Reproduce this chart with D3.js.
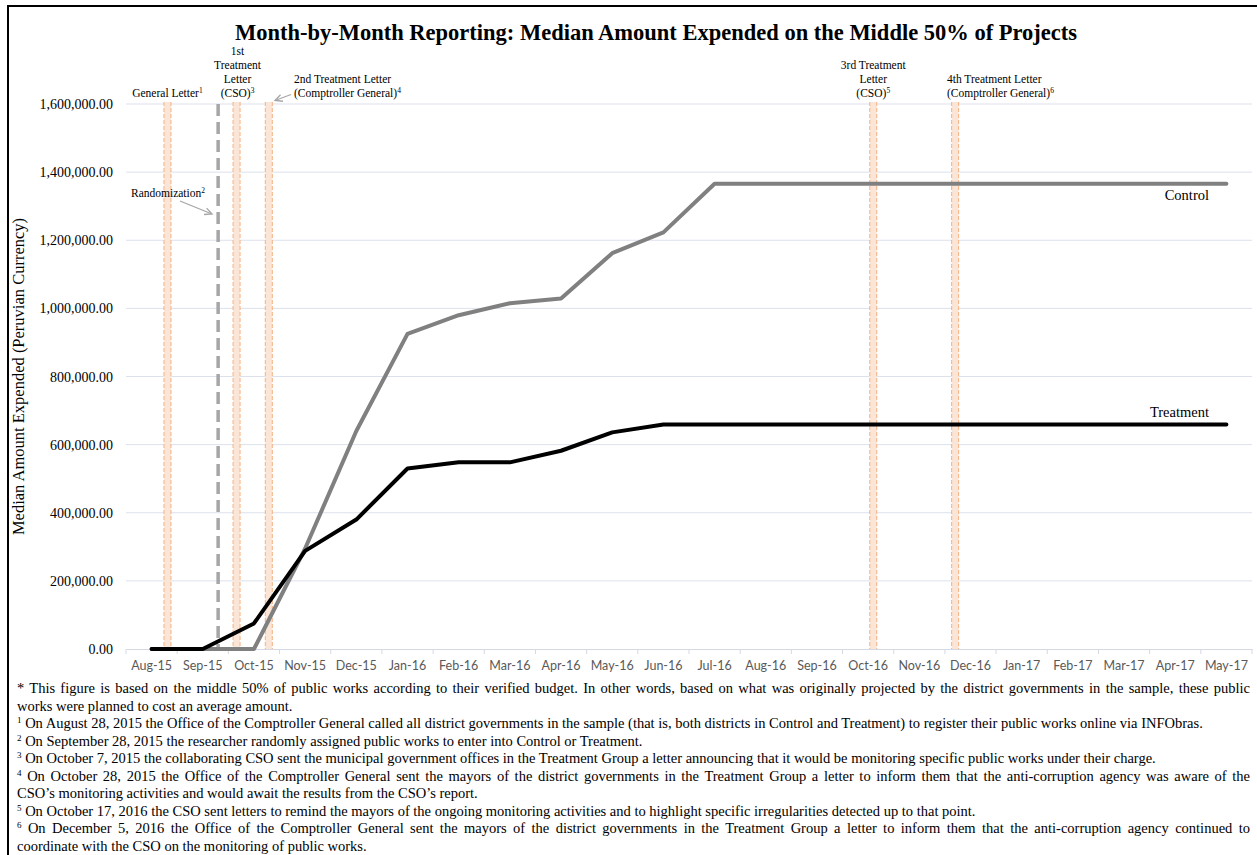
<!DOCTYPE html>
<html>
<head>
<meta charset="utf-8">
<script src="https://cdn.jsdelivr.net/npm/d3@7.9.0/dist/d3.min.js"></script>
<style>
  body { margin: 0; background: #fff; }
  #wrap { position: relative; width: 1257px; height: 855px; overflow: hidden; }
  svg { position: absolute; left: 0; top: 0; }
  .notes { position: absolute; left: 17px; top: 680px; width: 1233px;
           font-family: "Liberation Serif", "Times New Roman", serif; font-size: 14.5px;
           line-height: 17.5px; color: #000; }
  .notes div { white-space: nowrap; }
  .notes div.just { white-space: normal; text-align: justify; text-align-last: justify; }
  .notes sup { font-size: 9px; vertical-align: 5px; line-height: 0; }
</style>
</head>
<body>
<div id="wrap">
  <svg id="chart" width="1257" height="855"></svg>
  <div class="notes" id="notes"></div>
</div>
<script>
// months on the category axis
const months = ["Aug-15", "Sep-15", "Oct-15", "Nov-15", "Dec-15", "Jan-16", "Feb-16", "Mar-16",
  "Apr-16", "May-16", "Jun-16", "Jul-16", "Aug-16", "Sep-16", "Oct-16", "Nov-16", "Dec-16",
  "Jan-17", "Feb-17", "Mar-17", "Apr-17", "May-17"];

// median amount expended
const control = [0, 0, 0, 295000, 640000, 925000, 980000, 1015000, 1029000, 1162000, 1223000,
  1366000, 1366000, 1366000, 1366000, 1366000, 1366000, 1366000, 1366000, 1366000, 1366000, 1366000];
const treatment = [0, 0, 75000, 288000, 380000, 530000, 548000, 548000, 582000, 636000, 659000,
  659000, 659000, 659000, 659000, 659000, 659000, 659000, 659000, 659000, 659000, 659000];

const yTicks = [0, 200000, 400000, 600000, 800000, 1000000, 1200000, 1400000, 1600000];

// event markers: position in months since start of Aug-15
const letters = [
  { pos: 0.81, lines: ["General Letter"], sup: "1" },
  { pos: 2.16, lines: ["1st", "Treatment", "Letter", "(CSO)"], sup: "3" },
  { pos: 2.79, lines: ["2nd Treatment Letter", "(Comptroller General)"], sup: "4" },
  { pos: 14.6, lines: ["3rd Treatment", "Letter", "(CSO)"], sup: "5" },
  { pos: 16.2, lines: ["4th Treatment Letter", "(Comptroller General)"], sup: "6" }
];
const randomization = { pos: 1.8, label: "Randomization", sup: "2" };

const notes = [
  { j: true, t: "* This figure is based on the middle 50% of public works according to their verified budget. In other words, based on what was originally projected by the district governments in the sample, these public" },
  { t: "works were planned to cost an average amount." },
  { s: "1", t: " On August 28, 2015 the Office of the Comptroller General called all district governments in the sample (that is, both districts in Control and Treatment) to register their public works online via INFObras." },
  { s: "2", t: " On September 28, 2015 the researcher randomly assigned public works to enter into Control or Treatment." },
  { s: "3", t: " On October 7, 2015 the collaborating CSO sent the municipal government offices in the Treatment Group a letter announcing that it would be monitoring specific public works under their charge." },
  { j: true, s: "4", t: " On October 28, 2015 the Office of the Comptroller General sent the mayors of the district governments in the Treatment Group a letter to inform them that the anti-corruption agency was aware of the" },
  { t: "CSO\u2019s monitoring activities and would await the results from the CSO\u2019s report." },
  { s: "5", t: " On October 17, 2016 the CSO sent letters to remind the mayors of the ongoing monitoring activities and to highlight specific irregularities detected up to that point." },
  { j: true, s: "6", t: " On December 5, 2016 the Office of the Comptroller General sent the mayors of the district governments in the Treatment Group a letter to inform them that the anti-corruption agency continued to" },
  { t: "coordinate with the CSO on the monitoring of public works." }
];

const serif = '"Liberation Serif", "Times New Roman", serif';
const svg = d3.select('#chart');

// frame lines
svg.append('line').attr('x1', 8).attr('x2', 1257).attr('y1', 6).attr('y2', 6)
  .attr('stroke', '#000').attr('stroke-width', 2);
svg.append('line').attr('x1', 8).attr('x2', 8).attr('y1', 5).attr('y2', 855)
  .attr('stroke', '#000').attr('stroke-width', 2);

const plotLeft = 126, plotRight = 1252, plotTop = 104, plotBottom = 649;

const x = d3.scaleBand().domain(months).range([plotLeft, plotRight]);
const xPos = d3.scaleLinear().domain([0, months.length]).range([plotLeft, plotRight]);
const y = d3.scaleLinear().domain([0, 1600000]).range([plotBottom, plotTop]);

// title
svg.append('text')
  .attr('x', 656).attr('y', 40)
  .attr('text-anchor', 'middle')
  .style('font-family', serif).style('font-weight', 'bold').style('font-size', '22.5px')
  .text('Month-by-Month Reporting: Median Amount Expended on the Middle 50% of Projects');

// gridlines
svg.append('g').selectAll('line').data(yTicks.filter(d => d > 0)).join('line')
  .attr('x1', plotLeft).attr('x2', plotRight)
  .attr('y1', d => y(d)).attr('y2', d => y(d))
  .attr('stroke', '#dde1ec').attr('stroke-width', 1);

// y axis labels
const fmt = d3.format(',.2f');
svg.append('g').selectAll('text').data(yTicks).join('text')
  .attr('x', 113).attr('y', d => y(d) + 5)
  .attr('text-anchor', 'end')
  .style('font-family', serif).style('font-size', '14px')
  .text(d => fmt(d));

svg.append('text')
  .attr('transform', `translate(24,${(plotTop + plotBottom) / 2}) rotate(-90)`)
  .attr('text-anchor', 'middle')
  .style('font-family', serif).style('font-size', '16.5px')
  .text('Median Amount Expended (Peruvian Currency)');

// x axis
const xAxis = svg.append('g').attr('transform', `translate(0,${plotBottom})`)
  .call(d3.axisBottom(x).tickSize(0).tickPadding(12));
xAxis.select('.domain').attr('stroke', '#d5d9e4');
xAxis.selectAll('text')
  .style('font-family', 'Lato, "Open Sans", sans-serif').style('font-size', '12.5px')
  .attr('fill', '#595959');
svg.append('g').selectAll('line').data(d3.range(months.length + 1)).join('line')
  .attr('x1', d => xPos(d)).attr('x2', d => xPos(d))
  .attr('y1', plotBottom).attr('y2', plotBottom + 5)
  .attr('stroke', '#d5d9e4');

// letter bands
const bandW = 7;
const bands = svg.append('g');
letters.forEach(d => {
  const cx = xPos(d.pos);
  bands.append('rect')
    .attr('x', cx - bandW / 2).attr('y', plotTop - 2)
    .attr('width', bandW).attr('height', plotBottom - plotTop + 2)
    .attr('fill', '#fbe5d6');
  [-bandW / 2, bandW / 2].forEach(o => {
    bands.append('line')
      .attr('x1', cx + o).attr('x2', cx + o)
      .attr('y1', plotTop - 2).attr('y2', plotBottom)
      .attr('stroke', '#f4b183').attr('stroke-width', 1)
      .attr('stroke-dasharray', '4,2');
  });
});

// randomization line
svg.append('line')
  .attr('x1', xPos(randomization.pos)).attr('x2', xPos(randomization.pos))
  .attr('y1', plotTop).attr('y2', plotBottom)
  .attr('stroke', '#a6a6a6').attr('stroke-width', 3.5)
  .attr('stroke-dasharray', '12,6');

// series lines
const line = d3.line().x((d, i) => x(months[i]) + x.bandwidth() / 2).y(d => y(d));
svg.append('path').datum(control)
  .attr('d', line).attr('fill', 'none')
  .attr('stroke', '#808080').attr('stroke-width', 4).attr('stroke-linecap', 'round').attr('stroke-linejoin', 'round');
svg.append('path').datum(treatment)
  .attr('d', line).attr('fill', 'none')
  .attr('stroke', '#000').attr('stroke-width', 4).attr('stroke-linecap', 'round').attr('stroke-linejoin', 'round');

// series labels
svg.append('text').attr('x', 1209).attr('y', y(control[21]) + 16)
  .attr('text-anchor', 'end')
  .style('font-family', serif).style('font-size', '14.5px').text('Control');
svg.append('text').attr('x', 1209).attr('y', y(treatment[21]) - 8)
  .attr('text-anchor', 'end')
  .style('font-family', serif).style('font-size', '14.5px').text('Treatment');

// annotation text with superscript on the last line
function annot(lines, sup, ax, lastY, anchor) {
  const t = svg.append('text')
    .attr('text-anchor', anchor)
    .style('font-family', serif).style('font-size', '11.5px');
  lines.forEach((l, i) => {
    const ts = t.append('tspan').attr('x', ax).attr('y', lastY - (lines.length - 1 - i) * 14);
    ts.append('tspan').text(l);
    if (i === lines.length - 1) {
      ts.append('tspan').attr('dy', -4).style('font-size', '7.5px').text(sup);
    }
  });
}
annot(letters[0].lines, letters[0].sup, xPos(letters[0].pos), 97, 'middle');
annot(letters[1].lines, letters[1].sup, xPos(letters[1].pos) + 1, 97, 'middle');
annot(letters[2].lines, letters[2].sup, 294, 97, 'start');
annot(letters[3].lines, letters[3].sup, xPos(letters[3].pos), 97, 'middle');
annot(letters[4].lines, letters[4].sup, 947, 97, 'start');
annot([randomization.label], randomization.sup, 131, 197, 'start');

// arrows
function arrow(x1, y1, x2, y2) {
  const g = svg.append('g').attr('stroke', '#a6a6a6').attr('stroke-width', 1.3).attr('fill', 'none');
  g.append('line').attr('x1', x1).attr('y1', y1).attr('x2', x2).attr('y2', y2);
  const a = Math.atan2(y2 - y1, x2 - x1), L = 8, w = 0.45;
  g.append('polyline').attr('points', [
    [x2 - L * Math.cos(a - w), y2 - L * Math.sin(a - w)],
    [x2, y2],
    [x2 - L * Math.cos(a + w), y2 - L * Math.sin(a + w)]
  ].map(p => p.join(',')).join(' '));
}
arrow(291, 94.5, 275, 100.5);
arrow(180, 201, 212, 214);

// footnotes
const box = d3.select('#notes');
notes.forEach(n => {
  const div = box.append('div').attr('class', n.j ? 'just' : null);
  div.html((n.s ? `<sup>${n.s}</sup>` : '') + n.t);
});
</script>
</body>
</html>
